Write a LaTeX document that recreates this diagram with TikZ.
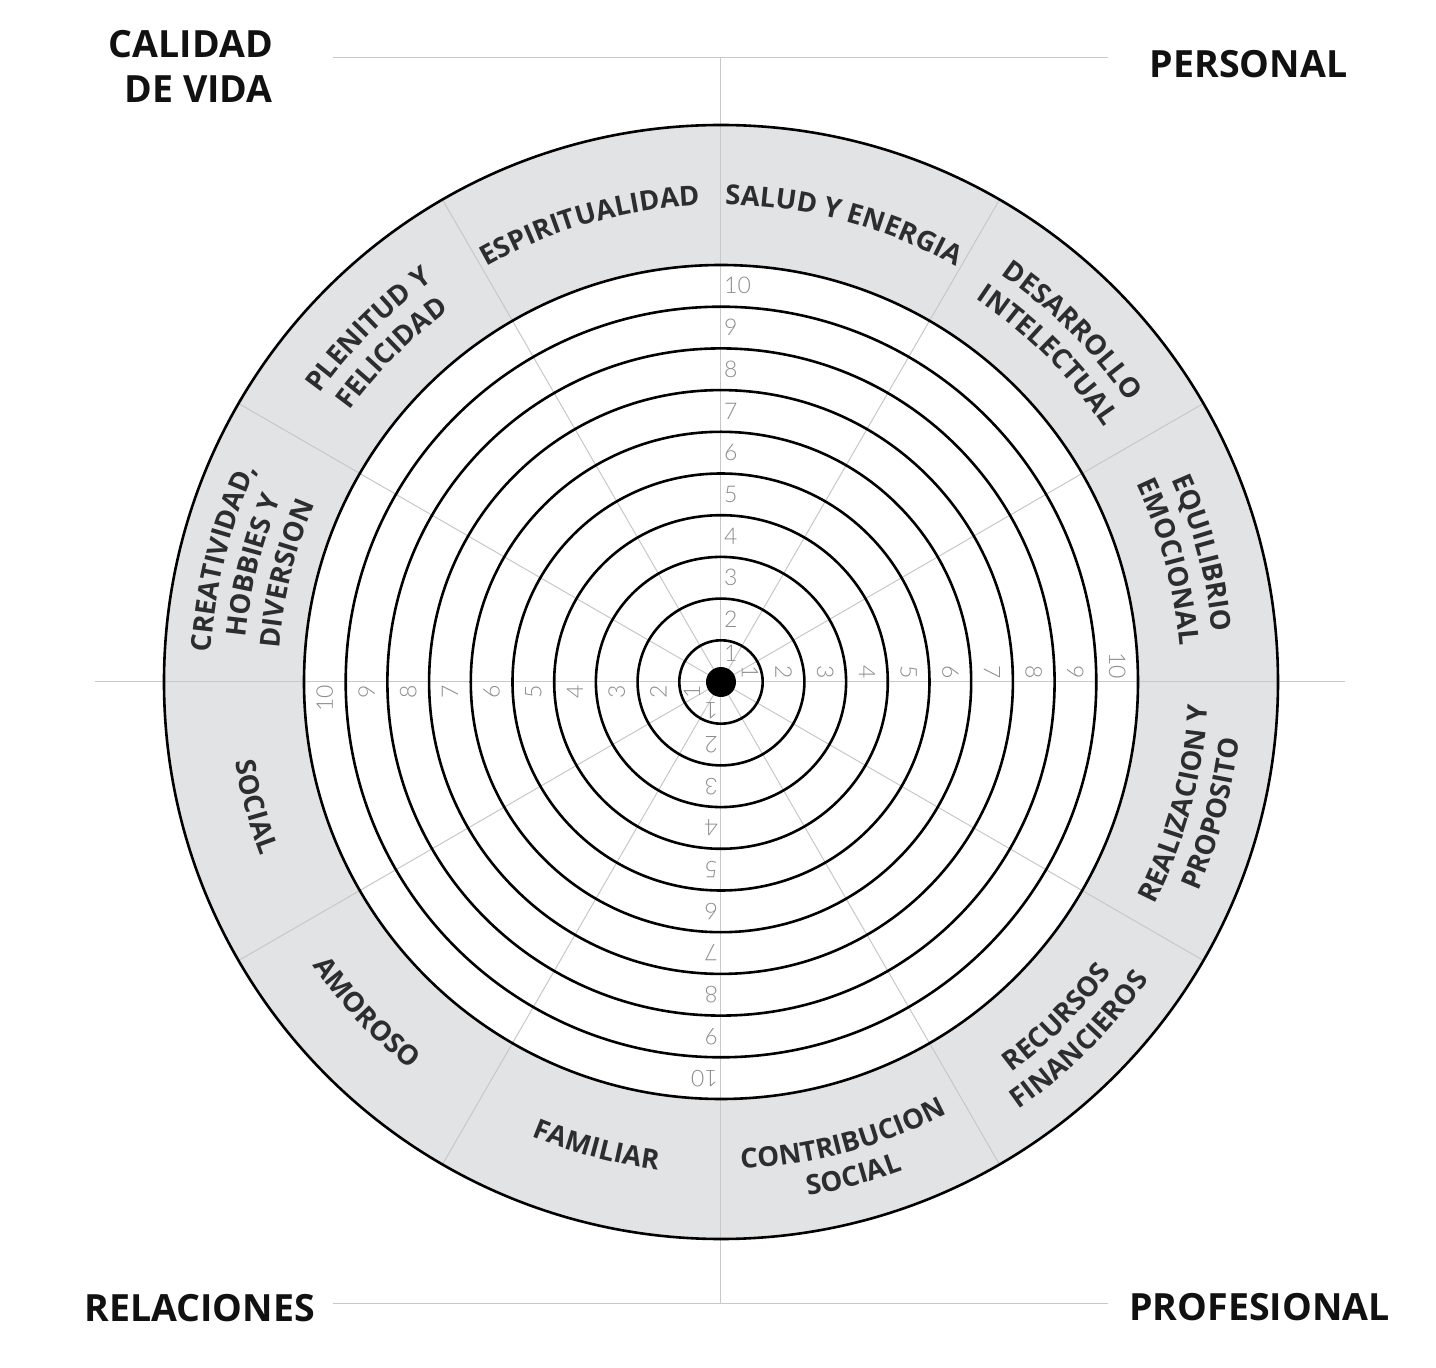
\documentclass[tikz,border=0pt]{standalone}
\usepackage{fontspec}
\setmainfont{Open Sans}
\newfontfamily\numfamily{Lato Light}
\usetikzlibrary{decorations.text}
\definecolor{band}{RGB}{225,227,229}
\definecolor{spoke}{RGB}{200,200,200}
\definecolor{numc}{RGB}{140,140,140}
\definecolor{labc}{RGB}{45,45,45}
\definecolor{titc}{RGB}{17,17,17}
\newcommand\labfont{\fontsize{27.5}{33}\selectfont\bfseries\color{labc}}
\newcommand\uplab[3]{\path[decorate,decoration={text along path,text align=center,text={|\labfont|#3}}] ({#1+45}:#2) arc[start angle={#1+45},end angle={#1-45},radius=#2];}
\newcommand\lowlab[3]{\path[decorate,decoration={text along path,text align=center,text={|\labfont|#3}}] ({#1-45}:#2) arc[start angle={#1-45},end angle={#1+45},radius=#2];}
\begin{document}
\begin{tikzpicture}[x=1pt,y=1pt,
  ring/.style={draw=black,line width=2.6pt},
  spokeline/.style={draw=spoke,line width=1pt},
  num/.style={font=\numfamily\fontsize{23}{23}\selectfont, text=numc, inner sep=0pt},
  title/.style={font=\fontsize{37.5}{45}\selectfont\bfseries, text=titc, inner sep=0pt}]
\useasboundingbox (-721,-686) rectangle (715,682);
\fill[band] (0,0) circle[radius=557];
\fill[white] (0,0) circle[radius=417];
\foreach \a in {30,60,120,150,210,240,300,330} \draw[spokeline] (0,0) -- (\a:557);
\draw[spokeline] (-626,0) -- (624,0);
\draw[spokeline] (0,624) -- (0,-621);
\draw[spokeline] (-388,624) -- (387,624);
\draw[spokeline] (-388,-621) -- (387,-621);
\foreach \k in {1,...,10} \draw[ring] (0,0) circle[radius=41.7*\k];
\draw[ring] (0,0) circle[radius=557];
\fill[black] (0,0) circle[radius=15];
\foreach \k in {1,...,10} {
  \pgfmathsetmacro\d{\k==1 ? 29 : (\k-0.5)*41.7}
  \node[num,anchor=west] (nu\k) at (3,\d) {\k};
  \node[num,anchor=east,rotate=-90] (nr\k) at (\d,3) {\k};
  \node[num,anchor=west,rotate=180] (nd\k) at (-3,-\d) {\k};
  \node[num,anchor=east,rotate=90] (nl\k) at (-\d,-3) {\k};
}
\uplab{75}{477}{SALUD Y ENERGIA}
\uplab{106}{477}{ESPIRITUALIDAD}
\uplab{45}{494}{DESARROLLO}
\uplab{45}{460}{INTELECTUAL}
\uplab{15}{494}{EQUILIBRIO}
\uplab{15}{460}{EMOCIONAL}
\uplab{135}{494}{PLENITUD Y}
\uplab{135}{460}{FELICIDAD}
\uplab{166}{511}{CREATIVIDAD,}
\uplab{166}{477}{HOBBIES Y}
\uplab{166}{443}{DIVERSION}
\lowlab{-15}{487}{REALIZACION Y}
\lowlab{-15}{521}{PROPOSITO}
\lowlab{-45}{487}{RECURSOS}
\lowlab{-45}{521}{FINANCIEROS}
\lowlab{-75}{487}{CONTRIBUCION}
\lowlab{-75}{521}{SOCIAL}
\lowlab{-105}{492}{FAMILIAR}
\lowlab{-137}{497}{AMOROSO}
\lowlab{-165}{492}{SOCIAL}
\node[title,anchor=base east] (t1) at (-448,624) {CALIDAD};
\node[title,anchor=base east] (t2) at (-448,579) {DE VIDA};
\node[title,anchor=base] (t3) at (527.5,604) {PERSONAL};
\node[title,anchor=base] (t4) at (-521.5,-639) {RELACIONES};
\node[title,anchor=base] (t5) at (538.5,-638) {PROFESIONAL};
\end{tikzpicture}
\end{document}
